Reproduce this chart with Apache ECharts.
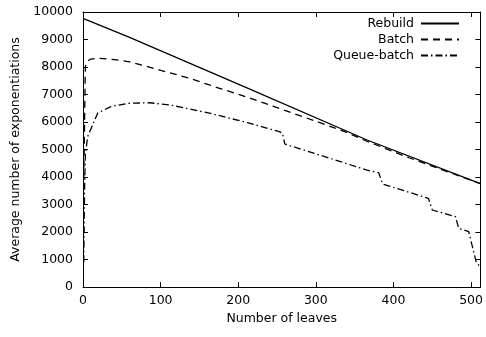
<!DOCTYPE html>
<html>
<head>
<meta charset="utf-8">
<script src="https://cdn.jsdelivr.net/npm/echarts@6/dist/echarts.min.js"></script>
<style>
  html, body { margin: 0; padding: 0; background: #fff; }
  #chart { width: 486px; height: 337px; }
</style>
</head>
<body>
<div id="chart"></div>
<script>
// data: [leaves, exponentiations]
const rebuild = [[0, 9770], [60, 9080], [212, 7230], [366, 5345], [512, 3760]]
const batch = [
  [1, 3900], [3, 8000], [5, 8200], [10, 8290], [20, 8320], [40, 8270], [60, 8190],
  [99, 7890], [137, 7590], [176, 7225], [212, 6900], [260, 6420], [300, 6030],
  [340, 5620], [366, 5300], [400, 4920], [420, 4700], [512, 3760]
]
const queueBatch = [
  [1, 900], [2, 3500], [3, 4800], [6, 5470], [19, 6330], [36, 6560], [58, 6680],
  [86, 6700], [112, 6620], [163, 6320], [212, 5975], [253, 5650], [257, 5590],
  [260, 5200], [366, 4250], [381, 4155], [386, 3745], [445, 3225], [450, 2800],
  [480, 2556], [484, 2135], [497, 2010], [507, 860], [512, 750]
]
const seriesNames = ['Rebuild', 'Batch', 'Queue-batch']
const xTicks = [0, 100, 200, 300, 400, 500]

const font = 'DejaVu Sans, Liberation Sans, sans-serif'
const fs = 12.5
const chart = echarts.init(document.getElementById('chart'))

// gnuplot style frame: ticks inside, mirrored on top and right
const tick = { show: true, inside: true, length: 5, lineStyle: { color: '#000', width: 1 } }
const frameAxis = (extra) => Object.assign({
  axisLine: { show: true, onZero: false, lineStyle: { color: '#000', width: 1 } },
  axisTick: tick,
  splitLine: { show: false }
}, extra)

chart.setOption({
  animation: false,
  grid: { left: 83, right: 4, top: 12, bottom: 50 },
  legend: {
    data: seriesNames,
    orient: 'vertical',
    right: 21,
    top: 12,
    align: 'right',
    itemGap: 3,
    itemWidth: 38,
    itemHeight: 12,
    itemStyle: { opacity: 0 },
    textStyle: { fontFamily: font, fontSize: fs, color: '#000', padding: [0, 2, 0, 0] },
    selectedMode: false
  },
  xAxis: [
    frameAxis({
      type: 'value', min: 0, max: 512, interval: 100,
      name: 'Number of leaves', nameLocation: 'middle', nameGap: 24,
      nameTextStyle: { fontFamily: font, fontSize: fs, color: '#000' },
      axisLabel: { fontFamily: font, fontSize: fs, color: '#000', margin: 7,
        customValues: xTicks },
      axisTick: Object.assign({ customValues: xTicks }, tick)
    }),
    frameAxis({
      type: 'value', min: 0, max: 512, interval: 100, position: 'top',
      axisLabel: { show: false },
      axisTick: Object.assign({ customValues: xTicks }, tick)
    })
  ],
  yAxis: [
    frameAxis({
      type: 'value', min: 0, max: 10000, interval: 1000,
      name: 'Average number of exponentiations', nameLocation: 'middle', nameGap: 60,
      nameTextStyle: { fontFamily: font, fontSize: fs, color: '#000' },
      axisLabel: { fontFamily: font, fontSize: fs, color: '#000', margin: 10,
        formatter: (v) => String(v) }
    }),
    frameAxis({
      type: 'value', min: 0, max: 10000, interval: 1000, position: 'right',
      axisLabel: { show: false }
    })
  ],
  series: [
    { name: seriesNames[0], type: 'line', data: rebuild, symbol: 'none',
      lineStyle: { color: '#000', width: 1.3, type: 'solid' }, itemStyle: { color: '#000' } },
    { name: seriesNames[1], type: 'line', data: batch, symbol: 'none',
      lineStyle: { color: '#000', width: 1.3, type: [7, 5] }, itemStyle: { color: '#000' } },
    { name: seriesNames[2], type: 'line', data: queueBatch, symbol: 'none',
      lineStyle: { color: '#000', width: 1.3, type: [7, 3, 1.5, 3] }, itemStyle: { color: '#000' } }
  ]
})
</script>
</body>
</html>
